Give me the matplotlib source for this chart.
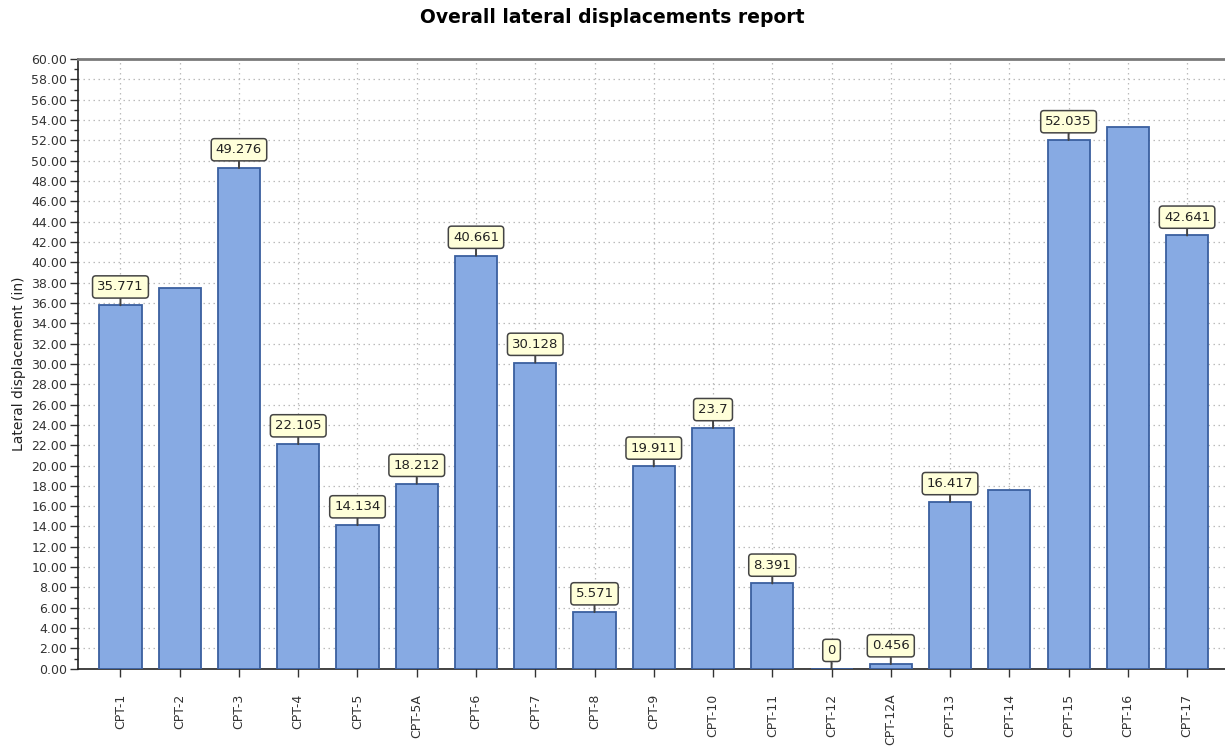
import numpy as np
import matplotlib.pyplot as plt
from matplotlib.ticker import MultipleLocator, FormatStrFormatter

# CPT names and overall lateral displacement (in)
cpts = ['CPT-1', 'CPT-2', 'CPT-3', 'CPT-4', 'CPT-5', 'CPT-5A', 'CPT-6', 'CPT-7',
        'CPT-8', 'CPT-9', 'CPT-10', 'CPT-11', 'CPT-12', 'CPT-12A', 'CPT-13',
        'CPT-14', 'CPT-15', 'CPT-16', 'CPT-17']
displacement = [35.771, 37.5, 49.276, 22.105, 14.134, 18.212, 40.661, 30.128,
                5.571, 19.911, 23.7, 8.391, 0, 0.456, 16.417,
                17.6, 52.035, 53.3, 42.641]
# which bars carry a value label
labelled = [True, False, True, True, True, True, True, True,
            True, True, True, True, True, True, True,
            False, True, False, True]

plt.rcParams['font.family'] = 'DejaVu Sans'

fig = plt.figure(figsize=(12.25, 7.48), dpi=100)
ax = fig.add_axes([0.064, 0.106, 0.936, 0.815])

x = np.arange(len(cpts))
ax.bar(x, displacement, width=0.71, color='#87AAE3', edgecolor='#3A5F9F',
       linewidth=1.3, zorder=3)

# value labels in yellow boxes
for xi, v, show in zip(x, displacement, labelled):
    if not show:
        continue
    ax.annotate(f'{v:g}', xy=(xi, v), xytext=(0, 8.5), textcoords='offset points',
                ha='center', va='bottom', fontsize=9.5, color='#222222',
                bbox=dict(boxstyle='round,pad=0.35,rounding_size=0.25',
                          fc='#FFFFD9', ec='#444444', lw=1.1),
                arrowprops=dict(arrowstyle='-', color='#444444', lw=1.4,
                                shrinkA=0, shrinkB=0),
                zorder=5)

ax.set_xlim(-0.71, len(cpts) - 0.36)
ax.set_ylim(0, 60)
ax.set_xticks(x)
ax.set_xticklabels(cpts, rotation=90, fontsize=9)
ax.yaxis.set_major_locator(MultipleLocator(2))
ax.yaxis.set_minor_locator(MultipleLocator(1))
ax.yaxis.set_major_formatter(FormatStrFormatter('%.2f'))
ax.tick_params(axis='y', which='major', length=6, width=1, labelsize=9,
               color='#333333', labelcolor='#333333', pad=2)
ax.tick_params(axis='y', which='minor', length=3, width=1, color='#333333')
ax.tick_params(axis='x', length=6, width=1, pad=12, color='#333333',
               labelcolor='#333333')

ax.grid(True, which='major', linestyle=(0, (1.2, 2.8)), color='#BBBBBB',
        linewidth=0.9, zorder=0)
ax.set_axisbelow(True)

ax.spines['left'].set_color('#222222')
ax.spines['bottom'].set_color('#222222')
ax.spines['left'].set_linewidth(1.2)
ax.spines['bottom'].set_linewidth(1.2)
ax.spines['top'].set_color('#7A7A7A')
ax.spines['top'].set_linewidth(2)
ax.spines['right'].set_visible(False)

ax.set_ylabel('Lateral displacement (in)', fontsize=10, color='#222222',
              labelpad=4)
fig.text(0.5, 0.977, 'Overall lateral displacements report', ha='center',
         va='center', fontsize=13.5, fontweight='bold')

fig.savefig('out.png', dpi=100)
